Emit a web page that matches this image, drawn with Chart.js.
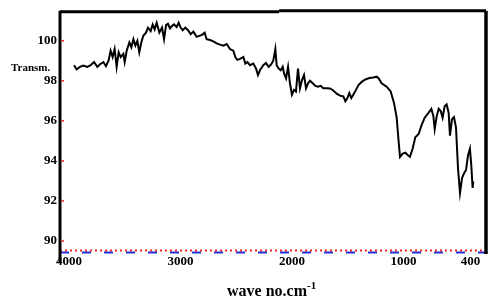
<!DOCTYPE html>
<html>
<head>
<meta charset="utf-8">
<script src="https://cdn.jsdelivr.net/npm/chart.js@4"></script>
<style>
  html, body { margin: 0; padding: 0; background: #fff; }
  canvas { display: block; }
</style>
</head>
<body>
<canvas id="irChart" width="496" height="303"></canvas>
<script>
// IR spectrum (wave number, % transmittance)
const waveNumbers = [
  3954, 3931, 3901, 3871, 3835, 3805, 3775, 3745, 3721, 3691,
  3668, 3644, 3626, 3608, 3590, 3572, 3554, 3536, 3512, 3500,
  3482, 3458, 3440, 3422, 3404, 3386, 3369, 3351, 3333, 3309,
  3291, 3267, 3249, 3231, 3213, 3189, 3165, 3147, 3129, 3112,
  3094, 3076, 3058, 3034, 3016, 2998, 2980, 2956, 2932, 2908,
  2884, 2855, 2831, 2807, 2783, 2765, 2735, 2705, 2675, 2645,
  2615, 2585, 2556, 2526, 2508, 2490, 2466, 2436, 2418, 2400,
  2376, 2346, 2322, 2305, 2287, 2257, 2233, 2209, 2185, 2167,
  2149, 2137, 2119, 2101, 2083, 2071, 2053, 2035, 2018, 2000,
  1982, 1964, 1946, 1928, 1910, 1892, 1874, 1856, 1838, 1814,
  1790, 1767, 1743, 1719, 1689, 1659, 1629, 1599, 1569, 1539,
  1521, 1503, 1486, 1468, 1450, 1426, 1402, 1372, 1342, 1306,
  1270, 1240, 1222, 1196, 1151, 1115, 1085, 1061, 1043, 1031,
  1007, 983, 960, 942, 918, 894, 864, 840, 810, 774,
  750, 732, 720, 702, 684, 666, 649, 631, 613, 595,
  583, 565, 547, 529, 511, 493, 475, 457, 439, 421,
  404, 392, 380, 374
];
const transmittance = [
  98.78, 98.58, 98.70, 98.76, 98.70, 98.78, 98.94, 98.70, 98.83, 98.94,
  98.73, 99.02, 99.51, 99.19, 99.59, 98.70, 99.43, 99.19, 99.35, 98.94,
  99.51, 99.92, 99.68, 100.08, 99.76, 100.00, 99.43, 99.92, 100.25, 100.41,
  100.66, 100.49, 100.82, 100.57, 100.90, 100.41, 100.66, 100.08, 100.79, 100.85,
  100.62, 100.74, 100.82, 100.69, 100.90, 100.66, 100.53, 100.66, 100.53, 100.33,
  100.46, 100.20, 100.25, 100.30, 100.41, 100.08, 100.04, 99.97, 99.87, 99.81,
  99.76, 99.84, 99.59, 99.51, 99.19, 99.05, 99.10, 99.19, 98.86, 98.94,
  98.78, 98.86, 98.61, 98.29, 98.53, 98.78, 98.89, 98.70, 98.83, 99.02,
  99.59, 98.78, 98.61, 98.53, 98.70, 98.37, 98.12, 98.70, 97.88, 97.31,
  97.55, 97.47, 98.61, 97.63, 98.04, 98.29, 97.63, 97.88, 98.01, 97.88,
  97.75, 97.71, 97.75, 97.63, 97.63, 97.62, 97.52, 97.36, 97.26, 97.22,
  96.98, 97.14, 97.39, 97.14, 97.31, 97.55, 97.80, 97.96, 98.07, 98.14,
  98.17, 98.21, 98.12, 97.88, 97.71, 97.47, 96.90, 96.16, 94.94, 94.20,
  94.37, 94.41, 94.28, 94.20, 94.61, 95.18, 95.35, 95.75, 96.16, 96.41,
  96.60, 96.24, 95.59, 96.24, 96.60, 96.49, 96.16, 96.73, 96.82, 96.41,
  95.26, 96.08, 96.19, 95.67, 93.63, 92.40, 93.14, 93.38, 93.55, 94.28,
  94.61, 93.79, 92.65, 92.98
];
const xTicks = [4000, 3000, 2000, 1000, 400];
const yTicks = [90, 92, 94, 96, 98, 100];

const serif = "'Liberation Serif', 'Times New Roman', serif";

// frame, axis line, inner red ticks and the texts of the original figure
const framePlugin = {
  id: 'frame',
  afterDraw(chart) {
    const ctx = chart.ctx;
    const a = chart.chartArea;
    const yScale = chart.scales.y;
    ctx.save();

    // bottom axis: red dotted with blue dashes
    ctx.lineWidth = 2;
    ctx.strokeStyle = '#1f2fd8';
    ctx.setLineDash([9, 13]);
    ctx.beginPath();
    ctx.moveTo(a.left, a.bottom + 1.5);
    ctx.lineTo(a.right, a.bottom + 1.5);
    ctx.stroke();
    ctx.strokeStyle = '#ee2222';
    ctx.setLineDash([2, 3]);
    ctx.beginPath();
    ctx.moveTo(a.left, a.bottom - 0.5);
    ctx.lineTo(a.right, a.bottom - 0.5);
    ctx.stroke();
    ctx.setLineDash([]);

    // black frame
    ctx.strokeStyle = '#000';
    ctx.lineWidth = 3;
    ctx.beginPath();
    ctx.moveTo(a.left, a.top);
    ctx.lineTo(a.left, a.bottom + 11);
    ctx.stroke();
    ctx.beginPath();
    ctx.moveTo(a.left, a.top + 1);
    ctx.lineTo(279, a.top + 1);
    ctx.moveTo(279, a.top);
    ctx.lineTo(a.right, a.top);
    ctx.stroke();
    ctx.lineWidth = 3.5;
    ctx.beginPath();
    ctx.moveTo(a.right, a.top);
    ctx.lineTo(a.right, a.bottom + 3);
    ctx.stroke();

    // small red ticks inside the left axis
    ctx.strokeStyle = '#ee2222';
    ctx.lineWidth = 1.5;
    yTicks.forEach(function (v) {
      const py = yScale.getPixelForValue(v);
      ctx.beginPath();
      ctx.moveTo(a.left + 1.5, py);
      ctx.lineTo(a.left + 4, py);
      ctx.stroke();
    });

    // y label
    ctx.fillStyle = '#000';
    ctx.font = 'bold 11px ' + serif;
    ctx.textAlign = 'left';
    ctx.textBaseline = 'alphabetic';
    ctx.fillText('Transm.', 11, 71);

    // x title with superscript
    ctx.font = 'bold 16px ' + serif;
    const base = 'wave no.cm';
    ctx.fillText(base, 227, 296);
    const w = ctx.measureText(base).width;
    ctx.font = 'bold 11px ' + serif;
    ctx.fillText('-1', 227 + w, 289);

    ctx.restore();
  },
};

const irConfig = {
  type: 'line',
  data: {
    datasets: [
      {
        label: 'Transm.',
        data: waveNumbers.map((w, i) => ({ x: w, y: transmittance[i] })),
        borderColor: '#000',
        borderWidth: 2,
        pointRadius: 0,
        tension: 0,
        fill: false,
      },
    ],
  },
  options: {
    responsive: false,
    animation: false,
    devicePixelRatio: 1,
    layout: {
      padding: { left: 0, top: 6, right: 10, bottom: 0 },
    },
    plugins: {
      legend: { display: false },
      tooltip: { enabled: false },
      title: { display: false },
    },
    scales: {
      x: {
        type: 'linear',
        reverse: true,
        min: 260,
        max: 4080,
        afterBuildTicks: function (scale) {
          scale.ticks = xTicks.map((v) => ({ value: v }));
        },
        afterFit: function (scale) {
          scale.height = 52;
        },
        grid: { display: false, drawTicks: false },
        border: { display: false },
        ticks: {
          autoSkip: false,
          maxRotation: 0,
          padding: 3,
          color: '#000',
          font: { family: serif, size: 13, weight: 'bold' },
          callback: function (value) {
            return String(value);
          },
        },
      },
      y: {
        min: 89.5,
        max: 101.5,
        afterBuildTicks: function (scale) {
          scale.ticks = yTicks.map((v) => ({ value: v }));
        },
        afterFit: function (scale) {
          scale.width = 60;
        },
        grid: { display: false, drawTicks: false },
        border: { display: false },
        ticks: {
          padding: 3,
          color: '#000',
          font: { family: serif, size: 13, weight: 'bold' },
          callback: function (value) {
            return String(value);
          },
        },
      },
    },
  },
  plugins: [framePlugin],
};

const irChart = new Chart(document.getElementById('irChart'), irConfig);
</script>
</body>
</html>
